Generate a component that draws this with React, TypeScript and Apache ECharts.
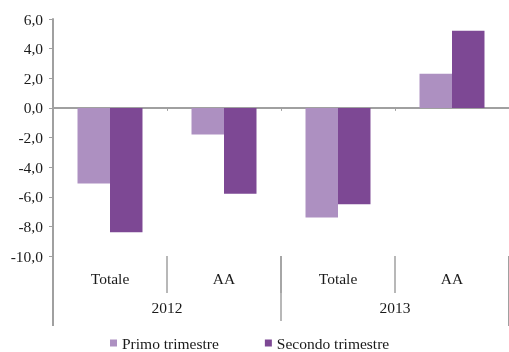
import React, { useEffect, useRef } from "react";
import * as echarts from "echarts";

const categories = ["Totale", "AA", "Totale", "AA"];
const years = ["2012", "2013"];
const primo = [-5.1, -1.8, -7.4, 2.3];
const secondo = [-8.4, -5.8, -6.5, 5.2];
const seriesNames = ["Primo trimestre", "Secondo trimestre"];

const FONT = "Liberation Serif";
const GRAY = "#A0A0A0";

export default function App() {
  const ref = useRef<HTMLDivElement>(null);
  useEffect(() => {
    const chart = echarts.init(ref.current!, null, { renderer: "svg" });
    chart.setOption({
      animation: false,
      textStyle: { fontFamily: FONT },
      grid: { left: 53, top: 19, height: 237, width: 469, containLabel: false },
      legend: {
        left: 110,
        top: 335,
        padding: 0,
        itemWidth: 7,
        itemHeight: 7,
        itemGap: 46,
        icon: "rect",
        textStyle: { fontFamily: FONT, fontSize: 15.5, color: "#1a1a1a" },
        data: seriesNames,
      },
      xAxis: [
        {
          type: "category",
          data: categories,
          position: "bottom",
          axisLine: { show: true, onZero: true, lineStyle: { color: GRAY, width: 2 } },
          axisTick: { show: true, length: 3, lineStyle: { color: GRAY, width: 1 } },
          axisLabel: { show: false },
          splitLine: { show: false },
        },
        {
          type: "category",
          data: categories,
          position: "bottom",
          axisLine: { show: false, onZero: false },
          axisTick: { show: true, length: 37, lineStyle: { color: GRAY, width: 1.5 } },
          axisLabel: { show: true, margin: 14, fontFamily: FONT, fontSize: 15.5, color: "#1a1a1a", interval: 0 },
          splitLine: { show: false },
        },
        {
          type: "category",
          data: years,
          position: "bottom",
          axisLine: { show: false, onZero: false },
          axisTick: { show: true, length: 65, lineStyle: { color: GRAY, width: 1.5 } },
          axisLabel: { show: true, margin: 43, fontFamily: FONT, fontSize: 15.5, color: "#1a1a1a", interval: 0 },
          splitLine: { show: false },
        },
        {
          type: "category",
          data: [""],
          position: "bottom",
          axisLine: { show: false, onZero: false },
          axisTick: { show: true, length: 70, lineStyle: { color: GRAY, width: 2 } },
          axisLabel: { show: false },
          splitLine: { show: false },
        },
      ],
      yAxis: {
        type: "value",
        min: -10,
        max: 6,
        interval: 2,
        axisLine: { show: true, lineStyle: { color: GRAY, width: 2 } },
        axisTick: { show: true, length: 4, lineStyle: { color: GRAY, width: 1 } },
        axisLabel: {
          margin: 10,
          fontFamily: FONT,
          fontSize: 15.5,
          color: "#1a1a1a",
          formatter: (v: number) => v.toFixed(1).replace(".", ","),
        },
        splitLine: { show: false },
      },
      series: [
        {
          name: seriesNames[0],
          type: "bar",
          xAxisIndex: 0,
          data: primo,
          barGap: "0%",
          barCategoryGap: "43%",
          itemStyle: { color: "#AD90C1" },
        },
        {
          name: seriesNames[1],
          type: "bar",
          xAxisIndex: 0,
          data: secondo,
          barGap: "0%",
          barCategoryGap: "43%",
          itemStyle: { color: "#7D4894" },
        },
      ],
    });
    return () => chart.dispose();
  }, []);
  return (
    <div
      ref={ref}
      style={{ position: "fixed", left: 0, top: 0, width: 509, height: 352, overflow: "hidden" }}
    />
  );
}
